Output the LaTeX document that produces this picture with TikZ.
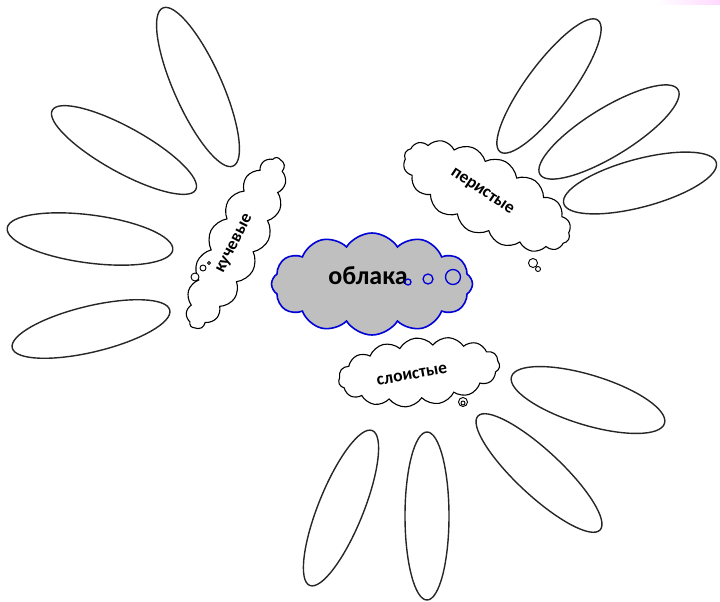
\documentclass[tikz,border=0pt]{standalone}
\usepackage{fontspec}
\setmainfont{Carlito}
\usetikzlibrary{shapes.geometric,shapes.symbols}
\begin{document}
\begin{tikzpicture}[x=1pt,y=-1pt,
  petal/.style={draw=black!85, line width=1.4pt, ellipse, inner sep=0pt},
  wcloud/.style={cloud, draw=black, line width=1.1pt, fill=white, cloud ignores aspect, cloud puff arc=110, inner sep=0pt},
  bcloud/.style={cloud, draw=blue!85!black, line width=1.6pt, fill=black!25, cloud ignores aspect, cloud puff arc=115, inner sep=0pt},
  lbl/.style={font=\bfseries\fontsize{17.5}{17.5}\selectfont},
  bigl/.style={font=\bfseries\fontsize{26}{26}\selectfont},
  bub/.style={circle, draw=black, line width=0.9pt, fill=white, inner sep=0pt},
  bbub/.style={circle, draw=blue!85!black, line width=1.3pt, fill=black!25, inner sep=0pt}]
\useasboundingbox (0,0) rectangle (720,602);
\shade[left color=white, right color=magenta!15] (655,0) rectangle (720,5);
% petals
\node[petal, minimum width=173pt, minimum height=48pt, rotate=-66] (p1) at (198,87) {};
\node[petal, minimum width=164pt, minimum height=45pt, rotate=-29] (p2) at (124,150) {};
\node[petal, minimum width=167pt, minimum height=48pt, rotate=-7.5] (p3) at (90,239) {};
\node[petal, minimum width=162pt, minimum height=46pt, rotate=13.5] (p4) at (91,329) {};
\node[petal, minimum width=164pt, minimum height=45pt, rotate=53.4] (p5) at (549,86) {};
\node[petal, minimum width=162pt, minimum height=48pt, rotate=31.6] (p6) at (609,132) {};
\node[petal, minimum width=158pt, minimum height=48pt, rotate=15] (p7) at (640,183) {};
\node[petal, minimum width=160pt, minimum height=50pt, rotate=-17] (p8) at (588,400) {};
\node[petal, minimum width=167pt, minimum height=45pt, rotate=-43] (p9) at (539,473) {};
\node[petal, minimum width=168pt, minimum height=44pt, rotate=90] (p10) at (427,516) {};
\node[petal, minimum width=167pt, minimum height=45pt, rotate=68] (p11) at (341,508) {};
% central cloud
\node[bcloud, cloud puffs=12, minimum width=201pt, minimum height=102pt] (c0) at (372,284) {};
\node[bigl] (t0) at (368,276) {облака};
\node[bbub, minimum size=6pt] (b01) at (408,282) {};
\node[bbub, minimum size=10pt] (b02) at (428,279) {};
\node[bbub, minimum size=15pt] (b03) at (453,277) {};
% cumulus
\node[wcloud, cloud puffs=17, minimum width=190pt, minimum height=56pt, rotate=63] (c1) at (236,243) {};
\node[lbl, rotate=63] (t1) at (235,244) {кучевые};
\node[bub, minimum size=8pt] (b11) at (195,277) {};
\node[bub, minimum size=6pt] (b12) at (203,268) {};
\node[bub, minimum size=3pt] (b13) at (209,263) {};
% cirrus
\node[wcloud, cloud puffs=16, minimum width=185pt, minimum height=78pt, rotate=-28] (c2) at (487,196) {};
\node[lbl, rotate=-34] (t2) at (482,192) {перистые};
\node[bub, minimum size=9pt] (b21) at (533,263) {};
\node[bub, minimum size=5pt] (b22) at (538,269) {};
% stratus
\node[wcloud, cloud puffs=15, minimum width=162pt, minimum height=68pt, rotate=6] (c3) at (419,372) {};
\node[lbl, rotate=10] (t3) at (412,375) {слоистые};
\node[bub, minimum size=9pt] (b31) at (463,402) {};
\node[bub, minimum size=4pt] (b32) at (463,403) {};
\end{tikzpicture}
\end{document}
